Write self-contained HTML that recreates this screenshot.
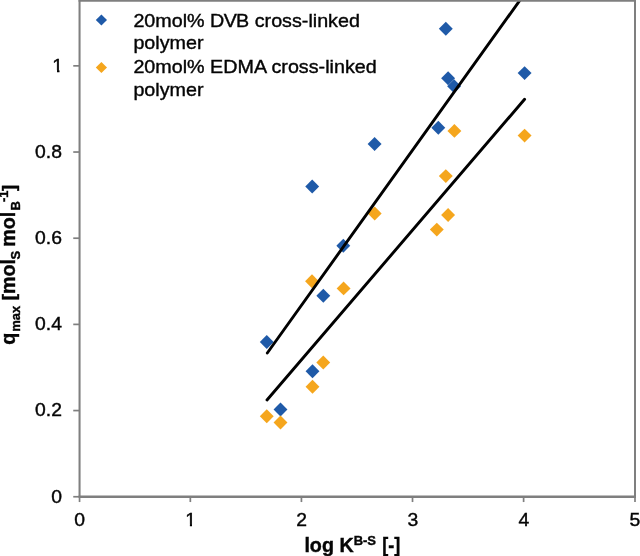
<!DOCTYPE html>
<html lang="en"><head><meta charset="utf-8"><title>qmax vs log K</title>
<style>html,body{margin:0;padding:0;background:#fff;overflow:hidden}svg{display:block;will-change:transform;opacity:.999}text{font-family:"Liberation Sans",Arial,Helvetica,sans-serif;fill:#050505;stroke:#050505;stroke-width:.4px}</style></head><body>
<svg width="640" height="556" viewBox="0 0 640 556">
<rect width="640" height="556" fill="#fff"/>
<defs><clipPath id="plot"><rect x="79" y="1" width="556" height="496"/></clipPath></defs>
<g>
<path d="M266.75 335.05L273.70 342.00L266.75 348.95L259.80 342.00Z" fill="#1f5aa8"/>
<path d="M280.50 402.55L287.45 409.50L280.50 416.45L273.55 409.50Z" fill="#1f5aa8"/>
<path d="M312.50 364.30L319.45 371.25L312.50 378.20L305.55 371.25Z" fill="#1f5aa8"/>
<path d="M312.20 179.55L319.15 186.50L312.20 193.45L305.25 186.50Z" fill="#1f5aa8"/>
<path d="M323.30 288.75L330.25 295.70L323.30 302.65L316.35 295.70Z" fill="#1f5aa8"/>
<path d="M343.30 238.85L350.25 245.80L343.30 252.75L336.35 245.80Z" fill="#1f5aa8"/>
<path d="M374.60 137.05L381.55 144.00L374.60 150.95L367.65 144.00Z" fill="#1f5aa8"/>
<path d="M438.30 120.85L445.25 127.80L438.30 134.75L431.35 127.80Z" fill="#1f5aa8"/>
<path d="M445.80 21.85L452.75 28.80L445.80 35.75L438.85 28.80Z" fill="#1f5aa8"/>
<path d="M448.10 71.35L455.05 78.30L448.10 85.25L441.15 78.30Z" fill="#1f5aa8"/>
<path d="M454.10 79.35L461.05 86.30L454.10 93.25L447.15 86.30Z" fill="#1f5aa8"/>
<path d="M524.60 66.15L531.55 73.10L524.60 80.05L517.65 73.10Z" fill="#1f5aa8"/>
<path d="M266.75 409.30L273.70 416.25L266.75 423.20L259.80 416.25Z" fill="#f5a61d"/>
<path d="M280.50 415.55L287.45 422.50L280.50 429.45L273.55 422.50Z" fill="#f5a61d"/>
<path d="M312.50 379.80L319.45 386.75L312.50 393.70L305.55 386.75Z" fill="#f5a61d"/>
<path d="M312.00 274.35L318.95 281.30L312.00 288.25L305.05 281.30Z" fill="#f5a61d"/>
<path d="M323.25 355.55L330.20 362.50L323.25 369.45L316.30 362.50Z" fill="#f5a61d"/>
<path d="M343.60 281.45L350.55 288.40L343.60 295.35L336.65 288.40Z" fill="#f5a61d"/>
<path d="M374.70 206.55L381.65 213.50L374.70 220.45L367.75 213.50Z" fill="#f5a61d"/>
<path d="M436.80 222.65L443.75 229.60L436.80 236.55L429.85 229.60Z" fill="#f5a61d"/>
<path d="M445.80 169.15L452.75 176.10L445.80 183.05L438.85 176.10Z" fill="#f5a61d"/>
<path d="M448.10 208.05L455.05 215.00L448.10 221.95L441.15 215.00Z" fill="#f5a61d"/>
<path d="M454.40 123.95L461.35 130.90L454.40 137.85L447.45 130.90Z" fill="#f5a61d"/>
<path d="M524.60 128.65L531.55 135.60L524.60 142.55L517.65 135.60Z" fill="#f5a61d"/>
</g>
<g clip-path="url(#plot)" stroke="#000" stroke-width="2.9" stroke-linecap="round" fill="none">
<line x1="267.3" y1="353" x2="524.9" y2="-6.7"/>
<line x1="267" y1="400" x2="524.6" y2="99.3"/>
</g>
<g stroke="#7f7f7f" fill="none">
<path d="M78.55 0.85H636.0" stroke-width="1.9"/>
<path d="M635.0 0V496.75" stroke-width="2"/>
<path d="M79.55 0V496.75" stroke-width="2.05"/>
<path d="M78.55 496.75H636.0" stroke-width="2.5"/>
</g>
<g stroke="#7f7f7f" stroke-width="1.7" fill="none">
<path d="M73.25 496.75H79.55"/>
<path d="M73.25 410.57H79.55"/>
<path d="M73.25 324.39H79.55"/>
<path d="M73.25 238.21H79.55"/>
<path d="M73.25 152.03H79.55"/>
<path d="M73.25 65.85H79.55"/>
<path d="M79.55 496.75V502.05"/>
<path d="M190.34 496.75V502.05"/>
<path d="M301.43 496.75V502.05"/>
<path d="M412.52 496.75V502.05"/>
<path d="M523.61 496.75V502.05"/>
<path d="M635.00 496.75V502.05"/>
</g>
<text transform="translate(61.90 502.55) scale(1.04 1)" text-anchor="end" font-size="18.6" font-weight="normal" >0</text>
<text transform="translate(61.90 416.37) scale(1.04 1)" text-anchor="end" font-size="18.6" font-weight="normal" >0.2</text>
<text transform="translate(61.90 330.19) scale(1.04 1)" text-anchor="end" font-size="18.6" font-weight="normal" >0.4</text>
<text transform="translate(61.90 244.01) scale(1.04 1)" text-anchor="end" font-size="18.6" font-weight="normal" >0.6</text>
<text transform="translate(61.90 157.83) scale(1.04 1)" text-anchor="end" font-size="18.6" font-weight="normal" >0.8</text>
<clipPath id="c1y"><path d="M40 50H72V70H59.45V74H57.0V70H40Z"/></clipPath>
<g clip-path="url(#c1y)"><text transform="translate(63.10 71.65) scale(1.04 1)" text-anchor="end" font-size="18.6" font-weight="normal" >1</text></g>
<text transform="translate(79.55 526.00) scale(1.04 1)" text-anchor="middle" font-size="18.6" font-weight="normal" >0</text>
<clipPath id="c1x"><path d="M180 505H202V524H192.0V529H189.9V524H180Z"/></clipPath>
<g clip-path="url(#c1x)"><text transform="translate(190.74 526.00) scale(1.04 1)" text-anchor="middle" font-size="18.6" font-weight="normal" >1</text></g>
<text transform="translate(301.73 526.00) scale(1.04 1)" text-anchor="middle" font-size="18.6" font-weight="normal" >2</text>
<text transform="translate(412.82 526.00) scale(1.04 1)" text-anchor="middle" font-size="18.6" font-weight="normal" >3</text>
<text transform="translate(523.91 526.00) scale(1.04 1)" text-anchor="middle" font-size="18.6" font-weight="normal" >4</text>
<text transform="translate(635.00 526.00) scale(1.04 1)" text-anchor="middle" font-size="18.6" font-weight="normal" >5</text>
<path d="M101.40 14.40L107.00 20.00L101.40 25.60L95.80 20.00Z" fill="#1f5aa8"/>
<path d="M101.40 61.90L107.00 67.50L101.40 73.10L95.80 67.50Z" fill="#f5a61d"/>
<text transform="translate(133.40 26.50) scale(1.033 1)" text-anchor="start" font-size="19.1" font-weight="normal" >20mol% D<tspan dx="-0.7">V</tspan><tspan dx="-0.7">B</tspan> cross-linked</text>
<text transform="translate(133.40 49.30) scale(1.033 1)" text-anchor="start" font-size="19.1" font-weight="normal" >polymer</text>
<text transform="translate(133.40 72.80) scale(1.033 1)" text-anchor="start" font-size="19.1" font-weight="normal" >20mol% EDMA cross-linked</text>
<text transform="translate(133.40 96.00) scale(1.033 1)" text-anchor="start" font-size="19.1" font-weight="normal" >polymer</text>
<text transform="translate(304.40 552.00) scale(0.985 1)" text-anchor="start" font-size="20" font-weight="bold" >log K<tspan font-size="13.2" dy="-7.3">B-S</tspan></text>
<text transform="translate(382.20 552.00) scale(0.9 1)" text-anchor="start" font-size="20" font-weight="bold" >[-]</text>
<text transform="translate(15.1 344.8) rotate(-90) scale(0.985 1)" font-size="20" font-weight="bold">q<tspan font-size="13.2" dy="4.8" dx="1.0">max</tspan><tspan dy="-4.8"> </tspan><tspan font-size="19">[</tspan>mol<tspan font-size="13.2" dy="4.8" dx="-0.5">S</tspan><tspan dy="-4.8" dx="-1.4"> mol</tspan><tspan font-size="13.2" dy="4.8" dx="1.4">B</tspan><tspan font-size="13.2" dy="-12.2" dx="-1">-1</tspan><tspan font-size="19" dy="7.4" dx="-0.7">]</tspan></text>
</svg></body></html>
